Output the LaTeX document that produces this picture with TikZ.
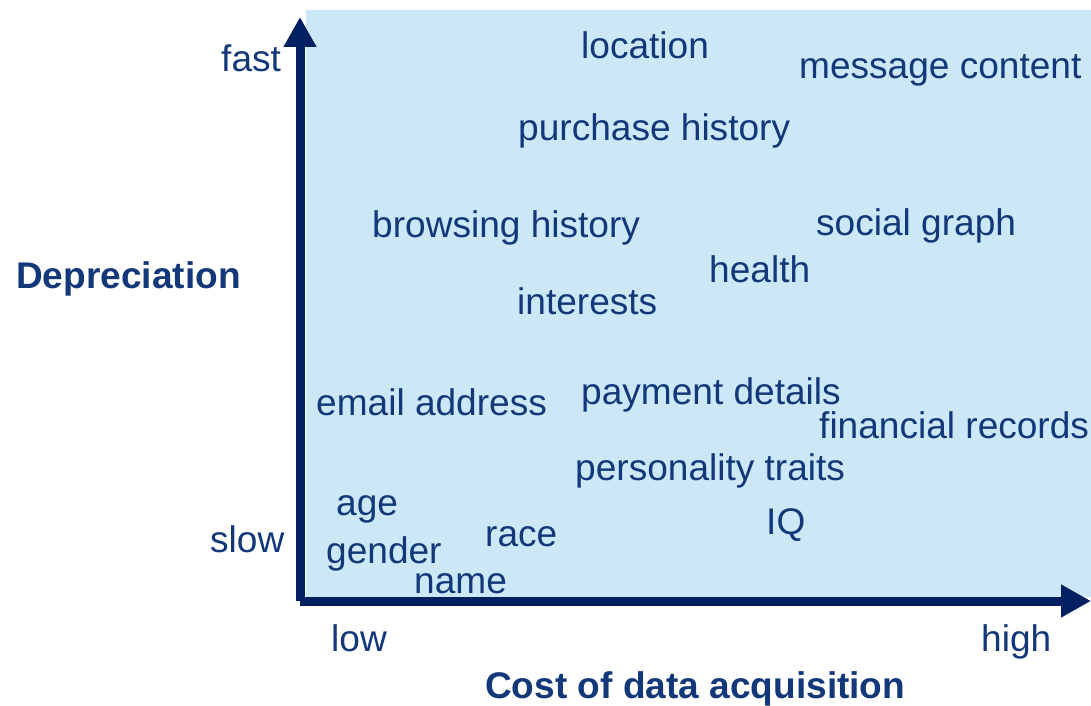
\documentclass[tikz,border=0pt]{standalone}
\usepackage{fontspec}
\setmainfont{Liberation Sans}
\usetikzlibrary{arrows.meta}

\definecolor{axisblue}{RGB}{0,32,96}
\definecolor{textblue}{RGB}{18,56,122}
\definecolor{paleblue}{RGB}{204,232,247}

\begin{document}
\begin{tikzpicture}[x=1bp, y=-1bp,
				item/.style = {anchor=base west, inner sep=0pt, text=textblue, font=\fontsize{37.2pt}{44pt}\selectfont},
				axislabel/.style = {item, font=\fontsize{37.2pt}{44pt}\selectfont\bfseries},
				axis/.style = {draw=axisblue, line width=9bp, line join=miter, -{Triangle[width=31bp, length=30bp]}}
			]
			\useasboundingbox (0,0) rectangle (1091,706);
			% shaded quadrant
			\fill[paleblue] (306,10) rectangle (1091,597);
			% axes
			\coordinate (origin) at (300,601);
			\coordinate (ytip) at (300,17);
			\coordinate (xtip) at (1091,601);
			\draw[axis] (origin) -- (ytip);
			\draw[axis] (origin) -- (xtip);
			% axis labels
			\node[item] (fast) at (221,72) {fast};
			\node[item] (slow) at (210,552) {slow};
			\node[item] (low) at (331,651) {low};
			\node[item] (high) at (981,651) {high};
			\node[axislabel] (depreciation) at (16,288) {Depreciation};
			\node[axislabel] (cost) at (485,698) {Cost of data acquisition};
			% data types
			\node[item] (location) at (581,59) {location};
			\node[item] (message) at (799,79) {message content};
			\node[item] (purchase) at (518,141) {purchase history};
			\node[item] (browsing) at (372,237) {browsing history};
			\node[item] (social) at (816,235) {social graph};
			\node[item] (health) at (709,282) {health};
			\node[item] (interests) at (517,314) {interests};
			\node[item] (email) at (316,415) {email address};
			\node[item] (payment) at (581,404) {payment details};
			\node[item] (financial) at (819,438) {financial records};
			\node[item] (personality) at (575,480) {personality traits};
			\node[item] (age) at (336,515) {age};
			\node[item] (iq) at (766,534) {IQ};
			\node[item] (race) at (485,546) {race};
			\node[item] (gender) at (326,563) {gender};
			\node[item] (name) at (414,593) {name};
		\end{tikzpicture}
\end{document}
